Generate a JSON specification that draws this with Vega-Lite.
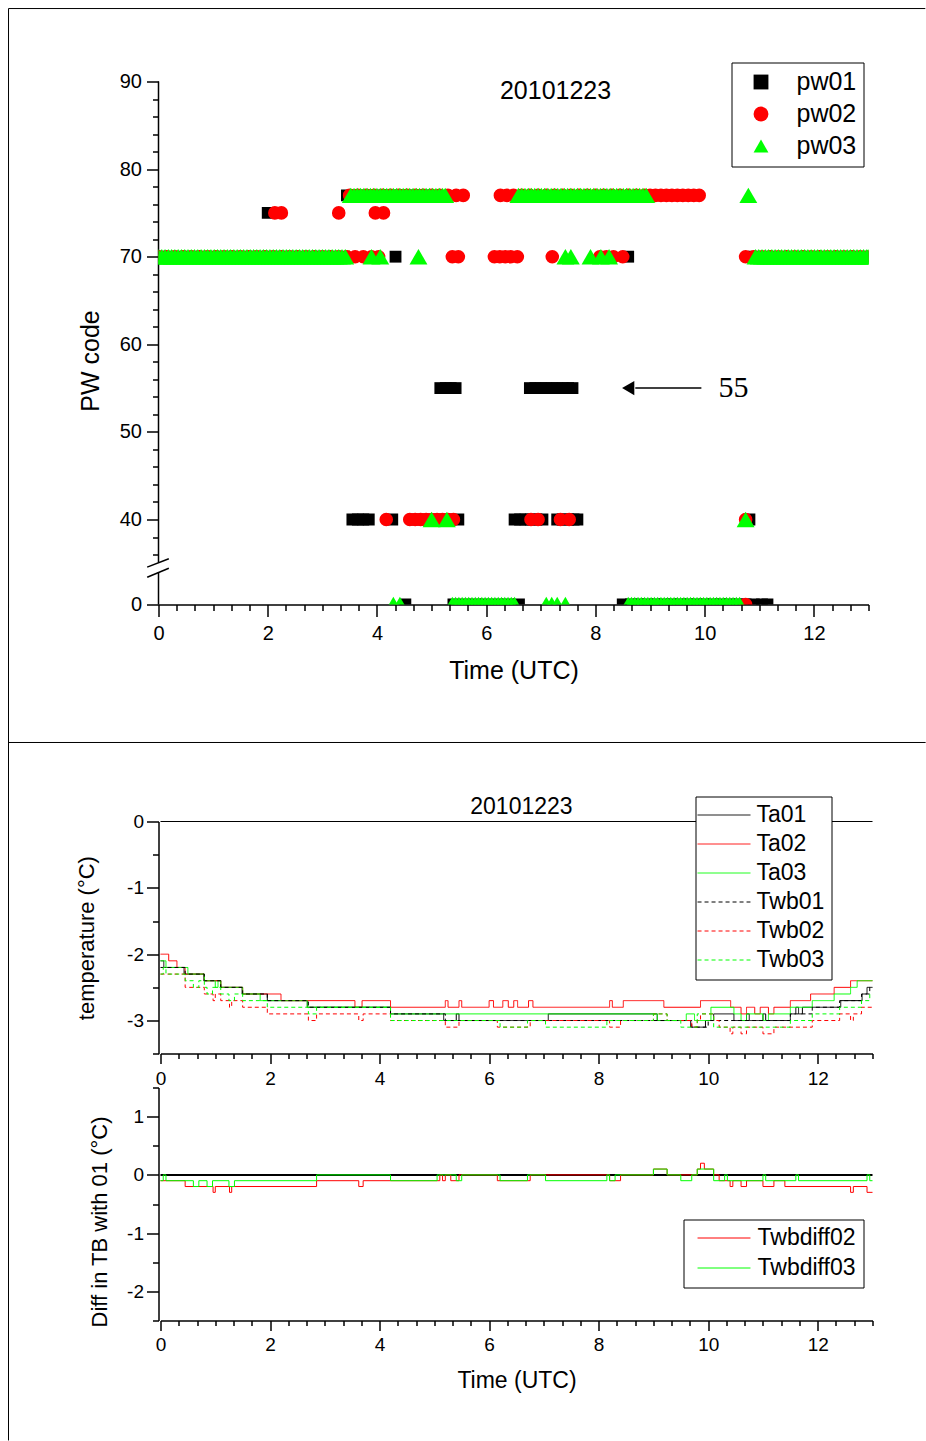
{
"$schema": "https://vega.github.io/schema/vega-lite/v6.json",
"padding": {"left": 7.5, "top": 7.5, "right": 0, "bottom": 0},
"background": "white",
"config": {
  "font": "Liberation Sans",
  "view": {"stroke": null},
  "axis": {"domainColor": "black", "tickColor": "black", "labelColor": "black", "titleColor": "black", "titleFontWeight": "normal", "grid": false, "domainWidth": 1.5, "tickWidth": 1.5, "labelFont": "Liberation Sans", "titleFont": "Liberation Sans"},
  "legend": {"labelFont": "Liberation Sans", "labelColor": "black"}
},
"vconcat": [
{
  "width": 710, "height": 523,
  "encoding": {
    "x": {"field": "t", "type": "quantitative", "scale": {"domain": [0, 13], "nice": false, "zero": false},
      "axis": {"values": [0,0.3333,0.6667,1,1.3333,1.6667,2,2.3333,2.6667,3,3.3333,3.6667,4,4.3333,4.6667,5,5.3333,5.6667,6,6.3333,6.6667,7,7.3333,7.6667,8,8.3333,8.6667,9,9.3333,9.6667,10,10.3333,10.6667,11,11.3333,11.6667,12,12.3333,12.6667,13],
        "labelExpr": "datum.value % 2 == 0 ? '' + datum.value : ''",
        "tickSize": {"condition": {"test": "datum.value % 2 == 0", "value": 12}, "value": 6},
        "labelFontSize": 20, "labelPadding": 7, "labelFlush": false, "labelOverlap": false,
        "title": "Time (UTC)", "titleFontSize": 25, "titlePadding": 15}},
    "y": {"field": "v", "type": "quantitative", "scale": {"domain": [0, 33, 90], "range": [523, 499.3, 0], "nice": false, "zero": false},
      "axis": {"values": [0,36,38,40,42,44,46,48,50,52,54,56,58,60,62,64,66,68,70,72,74,76,78,80,82,84,86,88,90],
        "labelExpr": "datum.value % 10 == 0 ? '' + datum.value : ''",
        "tickSize": {"condition": {"test": "datum.value % 10 == 0", "value": 12}, "value": 6},
        "domain": false, "labelFontSize": 20, "labelPadding": 5, "labelOverlap": false, "labelFlush": false,
        "title": "PW code", "titleFontSize": 25, "titlePadding": 16, "titleY": 279}},
    "color": {"field": "s", "type": "nominal", "scale": {"domain": ["pw01","pw02","pw03"], "range": ["#000000","#ff0000","#00ff00"]},
      "legend": {"orient": "none", "legendX": 573, "legendY": -19, "title": null, "strokeColor": "black", "fillColor": "white", "padding": 7, "labelFontSize": 25, "rowPadding": 6, "labelOffset": 23, "symbolOffset": 10, "symbolSize": 220}},
    "shape": {"field": "s", "type": "nominal", "scale": {"domain": ["pw01","pw02","pw03"], "range": ["square","circle","triangle-up"]}}
  },
  "layer": [
    {"data": {"values": [{"t": -2.746, "v": 98.33, "t2": 14.04, "v2": 98.33}, {"t": -2.746, "v": 98.33, "t2": -2.746, "v2": -5}]},
     "mark": {"type": "rule", "color": "black", "strokeWidth": 1},
     "encoding": {"x2": {"field": "t2"}, "y2": {"field": "v2"}, "color": {"value": "black"}, "shape": null}},
    {"data": {"values": [{"t": 0, "v": 90, "t2": 0, "v2": 35.1}, {"t": 0, "v": 34.0, "t2": 0, "v2": 0}, {"t": -0.207, "v": 34.56, "t2": 0.189, "v2": 35.51}, {"t": -0.207, "v": 33.41, "t2": 0.189, "v2": 34.44}]},
     "mark": {"type": "rule", "color": "black", "strokeWidth": 1.5},
     "encoding": {"x2": {"field": "t2"}, "y2": {"field": "v2"}, "color": {"value": "black"}, "shape": null}},
    {"data": {"values": [
      {"s":"pw01","t":0,"v":70},{"s":"pw01","t":0.2,"v":70},{"s":"pw01","t":0.4,"v":70},{"s":"pw01","t":0.6,"v":70},{"s":"pw01","t":0.8,"v":70},{"s":"pw01","t":1,"v":70},{"s":"pw01","t":1.2,"v":70},{"s":"pw01","t":1.4,"v":70},{"s":"pw01","t":1.6,"v":70},{"s":"pw01","t":1.8,"v":70},{"s":"pw01","t":2,"v":70},{"s":"pw01","t":2.2,"v":70},{"s":"pw01","t":2.4,"v":70},{"s":"pw01","t":2.6,"v":70},{"s":"pw01","t":2.8,"v":70},{"s":"pw01","t":3,"v":70},{"s":"pw01","t":3.2,"v":70},{"s":"pw01","t":3.4,"v":70},{"s":"pw01","t":4.34,"v":70},{"s":"pw01","t":8.6,"v":70},{"s":"pw01","t":10.9,"v":70},{"s":"pw01","t":11.2,"v":70},{"s":"pw01","t":11.5,"v":70},{"s":"pw01","t":11.8,"v":70},{"s":"pw01","t":12.1,"v":70},{"s":"pw01","t":12.4,"v":70},{"s":"pw01","t":12.7,"v":70},{"s":"pw01","t":13,"v":70},
      {"s":"pw01","t":2.0,"v":75},
      {"s":"pw01","t":3.45,"v":77},{"s":"pw01","t":3.6,"v":77},{"s":"pw01","t":3.75,"v":77},{"s":"pw01","t":3.9,"v":77},{"s":"pw01","t":4.05,"v":77},{"s":"pw01","t":4.2,"v":77},{"s":"pw01","t":4.35,"v":77},{"s":"pw01","t":4.5,"v":77},{"s":"pw01","t":4.65,"v":77},{"s":"pw01","t":4.8,"v":77},{"s":"pw01","t":4.9,"v":77},
      {"s":"pw01","t":5.16,"v":55},{"s":"pw01","t":5.26,"v":55},{"s":"pw01","t":5.35,"v":55},{"s":"pw01","t":5.44,"v":55},{"s":"pw01","t":6.8,"v":55},{"s":"pw01","t":6.9,"v":55},{"s":"pw01","t":7,"v":55},{"s":"pw01","t":7.1,"v":55},{"s":"pw01","t":7.2,"v":55},{"s":"pw01","t":7.3,"v":55},{"s":"pw01","t":7.4,"v":55},{"s":"pw01","t":7.5,"v":55},{"s":"pw01","t":7.58,"v":55},
      {"s":"pw01","t":3.55,"v":40},{"s":"pw01","t":3.65,"v":40},{"s":"pw01","t":3.75,"v":40},{"s":"pw01","t":3.85,"v":40},{"s":"pw01","t":4.28,"v":40},{"s":"pw01","t":4.7,"v":40},{"s":"pw01","t":4.9,"v":40},{"s":"pw01","t":5.1,"v":40},{"s":"pw01","t":5.3,"v":40},{"s":"pw01","t":5.49,"v":40},{"s":"pw01","t":6.52,"v":40},{"s":"pw01","t":6.62,"v":40},{"s":"pw01","t":6.72,"v":40},{"s":"pw01","t":6.82,"v":40},{"s":"pw01","t":6.92,"v":40},{"s":"pw01","t":7.03,"v":40},{"s":"pw01","t":7.3,"v":40},{"s":"pw01","t":7.4,"v":40},{"s":"pw01","t":7.5,"v":40},{"s":"pw01","t":7.6,"v":40},{"s":"pw01","t":7.67,"v":40},{"s":"pw01","t":10.82,"v":40},
      {"s":"pw01","t":4.52,"v":0},{"s":"pw01","t":5.4,"v":0},{"s":"pw01","t":5.6,"v":0},{"s":"pw01","t":5.8,"v":0},{"s":"pw01","t":6,"v":0},{"s":"pw01","t":6.2,"v":0},{"s":"pw01","t":6.4,"v":0},{"s":"pw01","t":6.6,"v":0},{"s":"pw01","t":8.5,"v":0},{"s":"pw01","t":8.65,"v":0},{"s":"pw01","t":8.8,"v":0},{"s":"pw01","t":8.95,"v":0},{"s":"pw01","t":9.1,"v":0},{"s":"pw01","t":9.25,"v":0},{"s":"pw01","t":9.4,"v":0},{"s":"pw01","t":9.55,"v":0},{"s":"pw01","t":9.7,"v":0},{"s":"pw01","t":9.85,"v":0},{"s":"pw01","t":10,"v":0},{"s":"pw01","t":10.15,"v":0},{"s":"pw01","t":10.3,"v":0},{"s":"pw01","t":10.45,"v":0},{"s":"pw01","t":10.6,"v":0},{"s":"pw01","t":10.75,"v":0},{"s":"pw01","t":10.9,"v":0},{"s":"pw01","t":11.05,"v":0},{"s":"pw01","t":11.15,"v":0}
     ]},
     "mark": {"type": "point", "filled": true, "opacity": 1, "strokeWidth": 0, "clip": true, "size": 140}},
    {"data": {"values": [
      {"s":"pw02","t":0,"v":70},{"s":"pw02","t":0.15,"v":70},{"s":"pw02","t":0.3,"v":70},{"s":"pw02","t":0.45,"v":70},{"s":"pw02","t":0.6,"v":70},{"s":"pw02","t":0.75,"v":70},{"s":"pw02","t":0.9,"v":70},{"s":"pw02","t":1.05,"v":70},{"s":"pw02","t":1.2,"v":70},{"s":"pw02","t":1.35,"v":70},{"s":"pw02","t":1.5,"v":70},{"s":"pw02","t":1.65,"v":70},{"s":"pw02","t":1.8,"v":70},{"s":"pw02","t":1.95,"v":70},{"s":"pw02","t":2.1,"v":70},{"s":"pw02","t":2.25,"v":70},{"s":"pw02","t":2.4,"v":70},{"s":"pw02","t":2.55,"v":70},{"s":"pw02","t":2.7,"v":70},{"s":"pw02","t":2.85,"v":70},{"s":"pw02","t":3,"v":70},{"s":"pw02","t":3.15,"v":70},{"s":"pw02","t":3.3,"v":70},{"s":"pw02","t":3.45,"v":70},{"s":"pw02","t":3.6,"v":70},{"s":"pw02","t":3.75,"v":70},{"s":"pw02","t":3.9,"v":70},{"s":"pw02","t":4.03,"v":70},{"s":"pw02","t":5.38,"v":70},{"s":"pw02","t":5.49,"v":70},{"s":"pw02","t":6.15,"v":70},{"s":"pw02","t":6.25,"v":70},{"s":"pw02","t":6.35,"v":70},{"s":"pw02","t":6.45,"v":70},{"s":"pw02","t":6.57,"v":70},{"s":"pw02","t":7.21,"v":70},{"s":"pw02","t":8.08,"v":70},{"s":"pw02","t":8.2,"v":70},{"s":"pw02","t":8.33,"v":70},{"s":"pw02","t":8.5,"v":70},{"s":"pw02","t":10.75,"v":70},{"s":"pw02","t":10.9,"v":70},{"s":"pw02","t":11.05,"v":70},{"s":"pw02","t":11.2,"v":70},{"s":"pw02","t":11.35,"v":70},{"s":"pw02","t":11.5,"v":70},{"s":"pw02","t":11.65,"v":70},{"s":"pw02","t":11.8,"v":70},{"s":"pw02","t":11.95,"v":70},{"s":"pw02","t":12.1,"v":70},{"s":"pw02","t":12.25,"v":70},{"s":"pw02","t":12.4,"v":70},{"s":"pw02","t":12.55,"v":70},{"s":"pw02","t":12.7,"v":70},{"s":"pw02","t":12.85,"v":70},{"s":"pw02","t":13,"v":70},
      {"s":"pw02","t":2.13,"v":75},{"s":"pw02","t":2.25,"v":75},{"s":"pw02","t":3.3,"v":75},{"s":"pw02","t":3.97,"v":75},{"s":"pw02","t":4.12,"v":75},
      {"s":"pw02","t":3.5,"v":77},{"s":"pw02","t":3.65,"v":77},{"s":"pw02","t":3.8,"v":77},{"s":"pw02","t":3.95,"v":77},{"s":"pw02","t":4.1,"v":77},{"s":"pw02","t":4.25,"v":77},{"s":"pw02","t":4.4,"v":77},{"s":"pw02","t":4.55,"v":77},{"s":"pw02","t":4.7,"v":77},{"s":"pw02","t":4.85,"v":77},{"s":"pw02","t":5,"v":77},{"s":"pw02","t":5.15,"v":77},{"s":"pw02","t":5.3,"v":77},{"s":"pw02","t":5.45,"v":77},{"s":"pw02","t":5.58,"v":77},{"s":"pw02","t":6.26,"v":77},{"s":"pw02","t":6.38,"v":77},{"s":"pw02","t":6.5,"v":77},{"s":"pw02","t":6.65,"v":77},{"s":"pw02","t":6.8,"v":77},{"s":"pw02","t":6.95,"v":77},{"s":"pw02","t":7.1,"v":77},{"s":"pw02","t":7.25,"v":77},{"s":"pw02","t":7.4,"v":77},{"s":"pw02","t":7.55,"v":77},{"s":"pw02","t":7.7,"v":77},{"s":"pw02","t":7.85,"v":77},{"s":"pw02","t":8,"v":77},{"s":"pw02","t":8.15,"v":77},{"s":"pw02","t":8.3,"v":77},{"s":"pw02","t":8.45,"v":77},{"s":"pw02","t":8.6,"v":77},{"s":"pw02","t":8.75,"v":77},{"s":"pw02","t":8.9,"v":77},{"s":"pw02","t":9.0,"v":77},{"s":"pw02","t":9.1,"v":77},{"s":"pw02","t":9.2,"v":77},{"s":"pw02","t":9.3,"v":77},{"s":"pw02","t":9.4,"v":77},{"s":"pw02","t":9.5,"v":77},{"s":"pw02","t":9.6,"v":77},{"s":"pw02","t":9.7,"v":77},{"s":"pw02","t":9.8,"v":77},{"s":"pw02","t":9.9,"v":77},
      {"s":"pw02","t":4.17,"v":40},{"s":"pw02","t":4.6,"v":40},{"s":"pw02","t":4.7,"v":40},{"s":"pw02","t":4.8,"v":40},{"s":"pw02","t":4.9,"v":40},{"s":"pw02","t":5,"v":40},{"s":"pw02","t":5.1,"v":40},{"s":"pw02","t":5.2,"v":40},{"s":"pw02","t":5.3,"v":40},{"s":"pw02","t":5.4,"v":40},{"s":"pw02","t":6.82,"v":40},{"s":"pw02","t":6.95,"v":40},{"s":"pw02","t":7.36,"v":40},{"s":"pw02","t":7.52,"v":40},{"s":"pw02","t":10.75,"v":40},
      {"s":"pw02","t":10.75,"v":0}
     ]},
     "mark": {"type": "point", "filled": true, "opacity": 1, "strokeWidth": 0, "clip": true, "size": 185}},
    {"data": {"values": [
      {"s":"pw03","t":0,"v":70},{"s":"pw03","t":0.06,"v":70},{"s":"pw03","t":0.12,"v":70},{"s":"pw03","t":0.18,"v":70},{"s":"pw03","t":0.24,"v":70},{"s":"pw03","t":0.3,"v":70},{"s":"pw03","t":0.36,"v":70},{"s":"pw03","t":0.42,"v":70},{"s":"pw03","t":0.48,"v":70},{"s":"pw03","t":0.54,"v":70},{"s":"pw03","t":0.6,"v":70},{"s":"pw03","t":0.66,"v":70},{"s":"pw03","t":0.72,"v":70},{"s":"pw03","t":0.78,"v":70},{"s":"pw03","t":0.84,"v":70},{"s":"pw03","t":0.9,"v":70},{"s":"pw03","t":0.96,"v":70},{"s":"pw03","t":1.02,"v":70},{"s":"pw03","t":1.08,"v":70},{"s":"pw03","t":1.14,"v":70},{"s":"pw03","t":1.2,"v":70},{"s":"pw03","t":1.26,"v":70},{"s":"pw03","t":1.32,"v":70},{"s":"pw03","t":1.38,"v":70},{"s":"pw03","t":1.44,"v":70},{"s":"pw03","t":1.5,"v":70},{"s":"pw03","t":1.56,"v":70},{"s":"pw03","t":1.62,"v":70},{"s":"pw03","t":1.68,"v":70},{"s":"pw03","t":1.74,"v":70},{"s":"pw03","t":1.8,"v":70},{"s":"pw03","t":1.86,"v":70},{"s":"pw03","t":1.92,"v":70},{"s":"pw03","t":1.98,"v":70},{"s":"pw03","t":2.04,"v":70},{"s":"pw03","t":2.1,"v":70},{"s":"pw03","t":2.16,"v":70},{"s":"pw03","t":2.22,"v":70},{"s":"pw03","t":2.28,"v":70},{"s":"pw03","t":2.34,"v":70},{"s":"pw03","t":2.4,"v":70},{"s":"pw03","t":2.46,"v":70},{"s":"pw03","t":2.52,"v":70},{"s":"pw03","t":2.58,"v":70},{"s":"pw03","t":2.64,"v":70},{"s":"pw03","t":2.7,"v":70},{"s":"pw03","t":2.76,"v":70},{"s":"pw03","t":2.82,"v":70},{"s":"pw03","t":2.88,"v":70},{"s":"pw03","t":2.94,"v":70},{"s":"pw03","t":3,"v":70},{"s":"pw03","t":3.06,"v":70},{"s":"pw03","t":3.12,"v":70},{"s":"pw03","t":3.18,"v":70},{"s":"pw03","t":3.24,"v":70},{"s":"pw03","t":3.3,"v":70},{"s":"pw03","t":3.36,"v":70},{"s":"pw03","t":3.42,"v":70},
      {"s":"pw03","t":3.9,"v":70},{"s":"pw03","t":4.06,"v":70},{"s":"pw03","t":4.76,"v":70},{"s":"pw03","t":7.45,"v":70},{"s":"pw03","t":7.55,"v":70},{"s":"pw03","t":7.91,"v":70},{"s":"pw03","t":8.1,"v":70},{"s":"pw03","t":8.25,"v":70},
      {"s":"pw03","t":10.93,"v":70},{"s":"pw03","t":10.99,"v":70},{"s":"pw03","t":11.05,"v":70},{"s":"pw03","t":11.11,"v":70},{"s":"pw03","t":11.17,"v":70},{"s":"pw03","t":11.23,"v":70},{"s":"pw03","t":11.29,"v":70},{"s":"pw03","t":11.35,"v":70},{"s":"pw03","t":11.41,"v":70},{"s":"pw03","t":11.47,"v":70},{"s":"pw03","t":11.53,"v":70},{"s":"pw03","t":11.59,"v":70},{"s":"pw03","t":11.65,"v":70},{"s":"pw03","t":11.71,"v":70},{"s":"pw03","t":11.77,"v":70},{"s":"pw03","t":11.83,"v":70},{"s":"pw03","t":11.89,"v":70},{"s":"pw03","t":11.95,"v":70},{"s":"pw03","t":12.01,"v":70},{"s":"pw03","t":12.07,"v":70},{"s":"pw03","t":12.13,"v":70},{"s":"pw03","t":12.19,"v":70},{"s":"pw03","t":12.25,"v":70},{"s":"pw03","t":12.31,"v":70},{"s":"pw03","t":12.37,"v":70},{"s":"pw03","t":12.43,"v":70},{"s":"pw03","t":12.49,"v":70},{"s":"pw03","t":12.55,"v":70},{"s":"pw03","t":12.61,"v":70},{"s":"pw03","t":12.67,"v":70},{"s":"pw03","t":12.73,"v":70},{"s":"pw03","t":12.79,"v":70},{"s":"pw03","t":12.85,"v":70},{"s":"pw03","t":12.91,"v":70},{"s":"pw03","t":12.97,"v":70},{"s":"pw03","t":13,"v":70},
      {"s":"pw03","t":3.52,"v":77},{"s":"pw03","t":3.58,"v":77},{"s":"pw03","t":3.64,"v":77},{"s":"pw03","t":3.7,"v":77},{"s":"pw03","t":3.76,"v":77},{"s":"pw03","t":3.82,"v":77},{"s":"pw03","t":3.88,"v":77},{"s":"pw03","t":3.94,"v":77},{"s":"pw03","t":4,"v":77},{"s":"pw03","t":4.06,"v":77},{"s":"pw03","t":4.12,"v":77},{"s":"pw03","t":4.18,"v":77},{"s":"pw03","t":4.24,"v":77},{"s":"pw03","t":4.3,"v":77},{"s":"pw03","t":4.36,"v":77},{"s":"pw03","t":4.42,"v":77},{"s":"pw03","t":4.48,"v":77},{"s":"pw03","t":4.54,"v":77},{"s":"pw03","t":4.6,"v":77},{"s":"pw03","t":4.66,"v":77},{"s":"pw03","t":4.72,"v":77},{"s":"pw03","t":4.78,"v":77},{"s":"pw03","t":4.84,"v":77},{"s":"pw03","t":4.9,"v":77},{"s":"pw03","t":4.96,"v":77},{"s":"pw03","t":5.02,"v":77},{"s":"pw03","t":5.08,"v":77},{"s":"pw03","t":5.14,"v":77},{"s":"pw03","t":5.2,"v":77},{"s":"pw03","t":5.25,"v":77},
      {"s":"pw03","t":6.59,"v":77},{"s":"pw03","t":6.65,"v":77},{"s":"pw03","t":6.71,"v":77},{"s":"pw03","t":6.77,"v":77},{"s":"pw03","t":6.83,"v":77},{"s":"pw03","t":6.89,"v":77},{"s":"pw03","t":6.95,"v":77},{"s":"pw03","t":7.01,"v":77},{"s":"pw03","t":7.07,"v":77},{"s":"pw03","t":7.13,"v":77},{"s":"pw03","t":7.19,"v":77},{"s":"pw03","t":7.25,"v":77},{"s":"pw03","t":7.31,"v":77},{"s":"pw03","t":7.37,"v":77},{"s":"pw03","t":7.43,"v":77},{"s":"pw03","t":7.49,"v":77},{"s":"pw03","t":7.55,"v":77},{"s":"pw03","t":7.61,"v":77},{"s":"pw03","t":7.67,"v":77},{"s":"pw03","t":7.73,"v":77},{"s":"pw03","t":7.79,"v":77},{"s":"pw03","t":7.85,"v":77},{"s":"pw03","t":7.91,"v":77},{"s":"pw03","t":7.97,"v":77},{"s":"pw03","t":8.03,"v":77},{"s":"pw03","t":8.09,"v":77},{"s":"pw03","t":8.15,"v":77},{"s":"pw03","t":8.21,"v":77},{"s":"pw03","t":8.27,"v":77},{"s":"pw03","t":8.33,"v":77},{"s":"pw03","t":8.39,"v":77},{"s":"pw03","t":8.45,"v":77},{"s":"pw03","t":8.51,"v":77},{"s":"pw03","t":8.57,"v":77},{"s":"pw03","t":8.63,"v":77},{"s":"pw03","t":8.69,"v":77},{"s":"pw03","t":8.75,"v":77},{"s":"pw03","t":8.81,"v":77},{"s":"pw03","t":8.87,"v":77},{"s":"pw03","t":8.93,"v":77},{"s":"pw03","t":10.8,"v":77},
      {"s":"pw03","t":5,"v":40},{"s":"pw03","t":5.28,"v":40},{"s":"pw03","t":10.75,"v":40},
      {"s":"pw03","t":4.3,"v":0},{"s":"pw03","t":4.42,"v":0},
      {"s":"pw03","t":5.38,"v":0},{"s":"pw03","t":5.44,"v":0},{"s":"pw03","t":5.5,"v":0},{"s":"pw03","t":5.56,"v":0},{"s":"pw03","t":5.62,"v":0},{"s":"pw03","t":5.68,"v":0},{"s":"pw03","t":5.74,"v":0},{"s":"pw03","t":5.8,"v":0},{"s":"pw03","t":5.86,"v":0},{"s":"pw03","t":5.92,"v":0},{"s":"pw03","t":5.98,"v":0},{"s":"pw03","t":6.04,"v":0},{"s":"pw03","t":6.1,"v":0},{"s":"pw03","t":6.16,"v":0},{"s":"pw03","t":6.22,"v":0},{"s":"pw03","t":6.28,"v":0},{"s":"pw03","t":6.34,"v":0},{"s":"pw03","t":6.4,"v":0},{"s":"pw03","t":6.46,"v":0},{"s":"pw03","t":6.52,"v":0},
      {"s":"pw03","t":7.1,"v":0},{"s":"pw03","t":7.2,"v":0},{"s":"pw03","t":7.3,"v":0},{"s":"pw03","t":7.45,"v":0},
      {"s":"pw03","t":8.6,"v":0},{"s":"pw03","t":8.66,"v":0},{"s":"pw03","t":8.72,"v":0},{"s":"pw03","t":8.78,"v":0},{"s":"pw03","t":8.84,"v":0},{"s":"pw03","t":8.9,"v":0},{"s":"pw03","t":8.96,"v":0},{"s":"pw03","t":9.02,"v":0},{"s":"pw03","t":9.08,"v":0},{"s":"pw03","t":9.14,"v":0},{"s":"pw03","t":9.2,"v":0},{"s":"pw03","t":9.26,"v":0},{"s":"pw03","t":9.32,"v":0},{"s":"pw03","t":9.38,"v":0},{"s":"pw03","t":9.44,"v":0},{"s":"pw03","t":9.5,"v":0},{"s":"pw03","t":9.56,"v":0},{"s":"pw03","t":9.62,"v":0},{"s":"pw03","t":9.68,"v":0},{"s":"pw03","t":9.74,"v":0},{"s":"pw03","t":9.8,"v":0},{"s":"pw03","t":9.86,"v":0},{"s":"pw03","t":9.92,"v":0},{"s":"pw03","t":9.98,"v":0},{"s":"pw03","t":10.04,"v":0},{"s":"pw03","t":10.1,"v":0},{"s":"pw03","t":10.16,"v":0},{"s":"pw03","t":10.22,"v":0},{"s":"pw03","t":10.28,"v":0},{"s":"pw03","t":10.34,"v":0},{"s":"pw03","t":10.4,"v":0},{"s":"pw03","t":10.46,"v":0},{"s":"pw03","t":10.52,"v":0},{"s":"pw03","t":10.58,"v":0},{"s":"pw03","t":10.64,"v":0}
     ]},
     "mark": {"type": "point", "filled": true, "opacity": 1, "strokeWidth": 0, "clip": true, "size": 320}},
    {"data": {"values": [{"t": 8.73, "v": 55, "t2": 9.94, "v2": 55}]},
     "mark": {"type": "rule", "color": "black", "strokeWidth": 1.5},
     "encoding": {"x2": {"field": "t2"}, "y2": {"field": "v2"}, "color": {"value": "black"}, "shape": null}},
    {"data": {"values": [{"t": 8.6, "v": 55}]},
     "mark": {"type": "point", "filled": true, "opacity": 1, "size": 200},
     "encoding": {"color": {"value": "black"}, "shape": {"value": "triangle-left"}}},
    {"data": {"values": [{"t": 10.53, "v": 55, "label": "55"}]},
     "mark": {"type": "text", "font": "Liberation Serif", "fontSize": 30, "baseline": "middle", "align": "center"},
     "encoding": {"text": {"field": "label"}, "color": {"value": "black"}, "shape": null}},
    {"data": {"values": [{"t": 7.27, "v": 88.86, "label": "20101223"}]},
     "mark": {"type": "text", "fontSize": 25, "baseline": "middle", "align": "center"},
     "encoding": {"text": {"field": "label"}, "color": {"value": "black"}, "shape": null}}
  ]
},
{
  "width": 714, "height": 499,
  "layer": [
    {
      "encoding": {
        "x": {"field": "t", "type": "quantitative", "scale": {"domain": [0, 13], "range": [2, 714], "nice": false, "zero": false},
          "axis": {"orient": "bottom", "offset": -267, "values": [0,0.3333,0.6667,1,1.3333,1.6667,2,2.3333,2.6667,3,3.3333,3.6667,4,4.3333,4.6667,5,5.3333,5.6667,6,6.3333,6.6667,7,7.3333,7.6667,8,8.3333,8.6667,9,9.3333,9.6667,10,10.3333,10.6667,11,11.3333,11.6667,12,12.3333,12.6667,13],
            "labelExpr": "datum.value % 2 == 0 ? '' + datum.value : ''",
            "tickSize": {"condition": {"test": "datum.value % 2 == 0", "value": 10}, "value": 5},
            "labelFontSize": 19, "labelPadding": 6, "labelFlush": false, "labelOverlap": false, "title": null}},
        "y": {"field": "v", "type": "quantitative", "scale": {"domain": [-3.5, 0], "range": [232.2, 0], "nice": false, "zero": false},
          "axis": {"orient": "left", "values": [-3.5,-3,-2.5,-2,-1.5,-1,-0.5,0],
            "labelExpr": "datum.value % 1 == 0 ? '' + datum.value : ''",
            "tickSize": {"condition": {"test": "datum.value % 1 == 0", "value": 12}, "value": 6},
            "labelFontSize": 19, "labelPadding": 3, "labelFlush": false, "labelOverlap": false,
            "title": "temperature (°C)", "titleFontSize": 22, "titlePadding": 28}}
      },
      "layer": [
        {"data": {"values": [{"t": -2.775, "v": 3.27, "t2": -2.775, "v2": -9.33}, {"t": -2.775, "v": 1.191, "t2": 13.97, "v2": 1.191}, {"t": 0, "v": 0, "t2": 13, "v2": 0}]},
         "mark": {"type": "rule", "color": "black", "strokeWidth": 1},
         "encoding": {"x2": {"field": "t2"}, "y2": {"field": "v2"}}},
        {"data": {"values": [
          {"s":"Ta01","t":0,"v":-2.1},{"s":"Ta01","t":0.06,"v":-2.2},{"s":"Ta01","t":0.43,"v":-2.3},{"s":"Ta01","t":0.79,"v":-2.4},{"s":"Ta01","t":1.1,"v":-2.5},{"s":"Ta01","t":1.49,"v":-2.6},{"s":"Ta01","t":1.95,"v":-2.7},{"s":"Ta01","t":2.68,"v":-2.8},{"s":"Ta01","t":4.2,"v":-2.9},{"s":"Ta01","t":5.17,"v":-3},{"s":"Ta01","t":5.4,"v":-2.9},{"s":"Ta01","t":5.45,"v":-3},{"s":"Ta01","t":7.08,"v":-2.9},{"s":"Ta01","t":9.07,"v":-3},{"s":"Ta01","t":9.68,"v":-3.1},{"s":"Ta01","t":9.95,"v":-3},{"s":"Ta01","t":10.1,"v":-2.9},{"s":"Ta01","t":10.47,"v":-3},{"s":"Ta01","t":10.7,"v":-2.9},{"s":"Ta01","t":10.75,"v":-3},{"s":"Ta01","t":11,"v":-2.9},{"s":"Ta01","t":11.05,"v":-3},{"s":"Ta01","t":11.5,"v":-2.9},{"s":"Ta01","t":11.6,"v":-2.8},{"s":"Ta01","t":11.65,"v":-2.9},{"s":"Ta01","t":11.72,"v":-2.8},{"s":"Ta01","t":12.42,"v":-2.7},{"s":"Ta01","t":12.81,"v":-2.6},{"s":"Ta01","t":12.9,"v":-2.5},{"s":"Ta01","t":13,"v":-2.5},
          {"s":"Ta02","t":0,"v":-2},{"s":"Ta02","t":0.15,"v":-2.1},{"s":"Ta02","t":0.3,"v":-2.2},{"s":"Ta02","t":0.45,"v":-2.3},{"s":"Ta02","t":0.8,"v":-2.4},{"s":"Ta02","t":1.1,"v":-2.5},{"s":"Ta02","t":1.5,"v":-2.6},{"s":"Ta02","t":2.2,"v":-2.7},{"s":"Ta02","t":3.55,"v":-2.8},{"s":"Ta02","t":3.68,"v":-2.7},{"s":"Ta02","t":4.2,"v":-2.8},{"s":"Ta02","t":5.2,"v":-2.7},{"s":"Ta02","t":5.25,"v":-2.8},{"s":"Ta02","t":5.45,"v":-2.7},{"s":"Ta02","t":5.5,"v":-2.8},{"s":"Ta02","t":6,"v":-2.7},{"s":"Ta02","t":6.08,"v":-2.8},{"s":"Ta02","t":6.25,"v":-2.7},{"s":"Ta02","t":6.35,"v":-2.8},{"s":"Ta02","t":6.45,"v":-2.7},{"s":"Ta02","t":6.52,"v":-2.8},{"s":"Ta02","t":6.72,"v":-2.7},{"s":"Ta02","t":6.8,"v":-2.8},{"s":"Ta02","t":8.2,"v":-2.7},{"s":"Ta02","t":8.25,"v":-2.8},{"s":"Ta02","t":8.45,"v":-2.7},{"s":"Ta02","t":9.19,"v":-2.8},{"s":"Ta02","t":9.86,"v":-2.7},{"s":"Ta02","t":10.41,"v":-2.8},{"s":"Ta02","t":10.6,"v":-2.9},{"s":"Ta02","t":10.7,"v":-2.8},{"s":"Ta02","t":10.85,"v":-2.9},{"s":"Ta02","t":10.95,"v":-2.8},{"s":"Ta02","t":11.1,"v":-2.9},{"s":"Ta02","t":11.2,"v":-2.8},{"s":"Ta02","t":11.5,"v":-2.7},{"s":"Ta02","t":11.87,"v":-2.6},{"s":"Ta02","t":12.3,"v":-2.5},{"s":"Ta02","t":12.6,"v":-2.4},{"s":"Ta02","t":13,"v":-2.4},
          {"s":"Ta03","t":0,"v":-2.1},{"s":"Ta03","t":0.1,"v":-2.2},{"s":"Ta03","t":0.5,"v":-2.3},{"s":"Ta03","t":0.8,"v":-2.4},{"s":"Ta03","t":1,"v":-2.5},{"s":"Ta03","t":1.05,"v":-2.4},{"s":"Ta03","t":1.1,"v":-2.5},{"s":"Ta03","t":1.5,"v":-2.6},{"s":"Ta03","t":1.82,"v":-2.7},{"s":"Ta03","t":2.68,"v":-2.8},{"s":"Ta03","t":4.2,"v":-2.9},{"s":"Ta03","t":9.07,"v":-3},{"s":"Ta03","t":9.6,"v":-2.9},{"s":"Ta03","t":9.75,"v":-3},{"s":"Ta03","t":10.05,"v":-2.8},{"s":"Ta03","t":10.47,"v":-2.9},{"s":"Ta03","t":10.6,"v":-3},{"s":"Ta03","t":10.7,"v":-2.9},{"s":"Ta03","t":11,"v":-3},{"s":"Ta03","t":11.1,"v":-2.9},{"s":"Ta03","t":11.5,"v":-2.8},{"s":"Ta03","t":11.9,"v":-2.7},{"s":"Ta03","t":12.3,"v":-2.6},{"s":"Ta03","t":12.6,"v":-2.5},{"s":"Ta03","t":12.72,"v":-2.4},{"s":"Ta03","t":13,"v":-2.4},
          {"s":"Twb01","t":0,"v":-2.2},{"s":"Twb01","t":0.45,"v":-2.3},{"s":"Twb01","t":0.8,"v":-2.4},{"s":"Twb01","t":1.1,"v":-2.5},{"s":"Twb01","t":1.5,"v":-2.6},{"s":"Twb01","t":1.95,"v":-2.7},{"s":"Twb01","t":2.7,"v":-2.8},{"s":"Twb01","t":4.2,"v":-2.9},{"s":"Twb01","t":5.2,"v":-3},{"s":"Twb01","t":9.7,"v":-3.1},{"s":"Twb01","t":10,"v":-3},{"s":"Twb01","t":11.5,"v":-2.9},{"s":"Twb01","t":11.9,"v":-2.8},{"s":"Twb01","t":12.4,"v":-2.7},{"s":"Twb01","t":12.8,"v":-2.6},{"s":"Twb01","t":12.95,"v":-2.5},{"s":"Twb01","t":13,"v":-2.5},
          {"s":"Twb02","t":0,"v":-2.3},{"s":"Twb02","t":0.45,"v":-2.5},{"s":"Twb02","t":0.8,"v":-2.6},{"s":"Twb02","t":0.96,"v":-2.7},{"s":"Twb02","t":1,"v":-2.6},{"s":"Twb02","t":1.1,"v":-2.7},{"s":"Twb02","t":1.26,"v":-2.8},{"s":"Twb02","t":1.3,"v":-2.7},{"s":"Twb02","t":1.5,"v":-2.8},{"s":"Twb02","t":1.95,"v":-2.9},{"s":"Twb02","t":2.7,"v":-3},{"s":"Twb02","t":2.85,"v":-2.9},{"s":"Twb02","t":3.62,"v":-3},{"s":"Twb02","t":3.7,"v":-2.9},{"s":"Twb02","t":4.2,"v":-3},{"s":"Twb02","t":5.2,"v":-3.1},{"s":"Twb02","t":5.45,"v":-3},{"s":"Twb02","t":6.15,"v":-3.1},{"s":"Twb02","t":6.75,"v":-3},{"s":"Twb02","t":8.2,"v":-3.1},{"s":"Twb02","t":8.4,"v":-3},{"s":"Twb02","t":9,"v":-2.9},{"s":"Twb02","t":9.25,"v":-3},{"s":"Twb02","t":9.7,"v":-3.1},{"s":"Twb02","t":9.8,"v":-3},{"s":"Twb02","t":9.86,"v":-2.9},{"s":"Twb02","t":10.1,"v":-3},{"s":"Twb02","t":10.2,"v":-3.1},{"s":"Twb02","t":10.4,"v":-3.2},{"s":"Twb02","t":10.45,"v":-3.1},{"s":"Twb02","t":10.6,"v":-3.2},{"s":"Twb02","t":10.7,"v":-3.1},{"s":"Twb02","t":11,"v":-3.2},{"s":"Twb02","t":11.2,"v":-3.1},{"s":"Twb02","t":11.9,"v":-3},{"s":"Twb02","t":12.4,"v":-2.9},{"s":"Twb02","t":12.6,"v":-3},{"s":"Twb02","t":12.65,"v":-2.9},{"s":"Twb02","t":12.8,"v":-2.8},{"s":"Twb02","t":13,"v":-2.8},
          {"s":"Twb03","t":0,"v":-2.3},{"s":"Twb03","t":0.05,"v":-2.2},{"s":"Twb03","t":0.1,"v":-2.3},{"s":"Twb03","t":0.45,"v":-2.4},{"s":"Twb03","t":0.6,"v":-2.5},{"s":"Twb03","t":0.7,"v":-2.4},{"s":"Twb03","t":0.8,"v":-2.5},{"s":"Twb03","t":0.85,"v":-2.6},{"s":"Twb03","t":0.95,"v":-2.5},{"s":"Twb03","t":1.1,"v":-2.6},{"s":"Twb03","t":1.25,"v":-2.7},{"s":"Twb03","t":1.35,"v":-2.6},{"s":"Twb03","t":1.5,"v":-2.7},{"s":"Twb03","t":1.95,"v":-2.8},{"s":"Twb03","t":2.7,"v":-2.9},{"s":"Twb03","t":2.85,"v":-2.8},{"s":"Twb03","t":4.2,"v":-3},{"s":"Twb03","t":6.2,"v":-3.1},{"s":"Twb03","t":6.7,"v":-3},{"s":"Twb03","t":7.03,"v":-3.1},{"s":"Twb03","t":8.15,"v":-3},{"s":"Twb03","t":9,"v":-2.9},{"s":"Twb03","t":9.25,"v":-3},{"s":"Twb03","t":9.5,"v":-3.1},{"s":"Twb03","t":9.8,"v":-2.9},{"s":"Twb03","t":10.1,"v":-3.1},{"s":"Twb03","t":11.5,"v":-3},{"s":"Twb03","t":11.9,"v":-2.9},{"s":"Twb03","t":12.4,"v":-2.8},{"s":"Twb03","t":12.8,"v":-2.7},{"s":"Twb03","t":12.95,"v":-2.6},{"s":"Twb03","t":13,"v":-2.6}
         ]},
         "mark": {"type": "line", "interpolate": "step-after", "strokeWidth": 1},
         "encoding": {
           "color": {"field": "s", "type": "nominal", "scale": {"domain": ["Ta01","Ta02","Ta03","Twb01","Twb02","Twb03"], "range": ["#000000","#ff0000","#00ff00","#000000","#ff0000","#00ff00"]},
             "legend": {"orient": "none", "legendX": 537, "legendY": -25, "title": null, "strokeColor": "black", "fillColor": "white", "padding": 7, "labelFontSize": 23, "symbolSize": 112, "symbolStrokeWidth": 1, "rowPadding": 5, "labelOffset": 21, "symbolOffset": 10, "symbolType": "M-5,0H5"}},
           "strokeDash": {"field": "s", "type": "nominal", "scale": {"domain": ["Ta01","Ta02","Ta03","Twb01","Twb02","Twb03"], "range": [[1,0],[1,0],[1,0],[4,3],[4,3],[4,3]]},
             "legend": {"orient": "none", "legendX": 537, "legendY": -25, "title": null, "strokeColor": "black", "fillColor": "white", "padding": 7, "labelFontSize": 23, "symbolSize": 112, "symbolStrokeWidth": 1, "rowPadding": 5, "labelOffset": 21, "symbolOffset": 10, "symbolType": "M-5,0H5"}}
         }},
        {"data": {"values": [{"t": 6.59, "v": 0.226, "label": "20101223"}]},
         "mark": {"type": "text", "fontSize": 23, "color": "black", "baseline": "middle", "align": "center"},
         "encoding": {"text": {"field": "label"}}}
      ]
    },
    {
      "encoding": {
        "x": {"field": "t", "type": "quantitative", "scale": {"domain": [0, 13], "range": [2, 714], "nice": false, "zero": false},
          "axis": {"orient": "bottom", "values": [0,0.3333,0.6667,1,1.3333,1.6667,2,2.3333,2.6667,3,3.3333,3.6667,4,4.3333,4.6667,5,5.3333,5.6667,6,6.3333,6.6667,7,7.3333,7.6667,8,8.3333,8.6667,9,9.3333,9.6667,10,10.3333,10.6667,11,11.3333,11.6667,12,12.3333,12.6667,13],
            "labelExpr": "datum.value % 2 == 0 ? '' + datum.value : ''",
            "tickSize": {"condition": {"test": "datum.value % 2 == 0", "value": 10}, "value": 5},
            "labelFontSize": 19, "labelPadding": 5, "labelFlush": false, "labelOverlap": false,
            "title": "Time (UTC)", "titleFontSize": 23, "titlePadding": 15}},
        "y": {"field": "v", "type": "quantitative", "scale": {"domain": [-2.5, 1.5], "range": [499, 266], "nice": false, "zero": false},
          "axis": {"orient": "left", "values": [-2.5,-2,-1.5,-1,-0.5,0,0.5,1,1.5],
            "labelExpr": "datum.value % 1 == 0 ? '' + datum.value : ''",
            "tickSize": {"condition": {"test": "datum.value % 1 == 0", "value": 12}, "value": 6},
            "labelFontSize": 19, "labelPadding": 3, "labelFlush": false, "labelOverlap": false,
            "title": "Diff in TB with 01 (°C)", "titleFontSize": 22, "titlePadding": 15, "titleY": 400}}
      },
      "layer": [
        {"data": {"values": [{"t": 0, "v": 0, "t2": 13, "v2": 0}]},
         "mark": {"type": "rule", "color": "black", "strokeWidth": 2},
         "encoding": {"x2": {"field": "t2"}, "y2": {"field": "v2"}}},
        {"data": {"values": [
          {"s":"Twbdiff02","t":0,"v":-0.1},{"s":"Twbdiff02","t":0.45,"v":-0.2},{"s":"Twbdiff02","t":0.96,"v":-0.3},{"s":"Twbdiff02","t":1,"v":-0.2},{"s":"Twbdiff02","t":1.26,"v":-0.3},{"s":"Twbdiff02","t":1.3,"v":-0.2},{"s":"Twbdiff02","t":2.85,"v":-0.1},{"s":"Twbdiff02","t":3.62,"v":-0.2},{"s":"Twbdiff02","t":3.7,"v":-0.1},{"s":"Twbdiff02","t":5.1,"v":0},{"s":"Twbdiff02","t":5.15,"v":-0.1},{"s":"Twbdiff02","t":5.2,"v":0},{"s":"Twbdiff02","t":5.3,"v":-0.1},{"s":"Twbdiff02","t":5.45,"v":0},{"s":"Twbdiff02","t":6.15,"v":-0.1},{"s":"Twbdiff02","t":6.75,"v":0},{"s":"Twbdiff02","t":8.2,"v":-0.1},{"s":"Twbdiff02","t":8.4,"v":0},{"s":"Twbdiff02","t":9,"v":0.1},{"s":"Twbdiff02","t":9.25,"v":0},{"s":"Twbdiff02","t":9.8,"v":0.1},{"s":"Twbdiff02","t":9.86,"v":0.2},{"s":"Twbdiff02","t":9.93,"v":0.1},{"s":"Twbdiff02","t":10.1,"v":0},{"s":"Twbdiff02","t":10.2,"v":-0.1},{"s":"Twbdiff02","t":10.4,"v":-0.2},{"s":"Twbdiff02","t":10.45,"v":-0.1},{"s":"Twbdiff02","t":10.6,"v":-0.2},{"s":"Twbdiff02","t":10.7,"v":-0.1},{"s":"Twbdiff02","t":11,"v":-0.2},{"s":"Twbdiff02","t":11.2,"v":-0.1},{"s":"Twbdiff02","t":11.4,"v":-0.2},{"s":"Twbdiff02","t":12.6,"v":-0.3},{"s":"Twbdiff02","t":12.65,"v":-0.2},{"s":"Twbdiff02","t":12.9,"v":-0.3},{"s":"Twbdiff02","t":13,"v":-0.3},
          {"s":"Twbdiff03","t":0,"v":-0.1},{"s":"Twbdiff03","t":0.05,"v":0},{"s":"Twbdiff03","t":0.1,"v":-0.1},{"s":"Twbdiff03","t":0.6,"v":-0.2},{"s":"Twbdiff03","t":0.7,"v":-0.1},{"s":"Twbdiff03","t":0.85,"v":-0.2},{"s":"Twbdiff03","t":0.95,"v":-0.1},{"s":"Twbdiff03","t":1.25,"v":-0.2},{"s":"Twbdiff03","t":1.35,"v":-0.1},{"s":"Twbdiff03","t":2.85,"v":0},{"s":"Twbdiff03","t":4.2,"v":-0.1},{"s":"Twbdiff03","t":5.05,"v":0},{"s":"Twbdiff03","t":5.4,"v":-0.1},{"s":"Twbdiff03","t":5.5,"v":0},{"s":"Twbdiff03","t":6.2,"v":-0.1},{"s":"Twbdiff03","t":6.7,"v":0},{"s":"Twbdiff03","t":7.03,"v":-0.1},{"s":"Twbdiff03","t":8.15,"v":0},{"s":"Twbdiff03","t":8.2,"v":-0.1},{"s":"Twbdiff03","t":8.3,"v":0},{"s":"Twbdiff03","t":9,"v":0.1},{"s":"Twbdiff03","t":9.25,"v":0},{"s":"Twbdiff03","t":9.5,"v":-0.1},{"s":"Twbdiff03","t":9.7,"v":0},{"s":"Twbdiff03","t":9.8,"v":0.1},{"s":"Twbdiff03","t":10.1,"v":-0.1},{"s":"Twbdiff03","t":10.3,"v":0},{"s":"Twbdiff03","t":10.35,"v":-0.1},{"s":"Twbdiff03","t":11,"v":0},{"s":"Twbdiff03","t":11.05,"v":-0.1},{"s":"Twbdiff03","t":11.6,"v":0},{"s":"Twbdiff03","t":11.65,"v":-0.1},{"s":"Twbdiff03","t":12.9,"v":0},{"s":"Twbdiff03","t":12.95,"v":-0.1},{"s":"Twbdiff03","t":13,"v":-0.1}
         ]},
         "mark": {"type": "line", "interpolate": "step-after", "strokeWidth": 1},
         "encoding": {
           "color": {"field": "s", "type": "nominal", "scale": {"domain": ["Twbdiff02","Twbdiff03"], "range": ["#ff0000","#00ff00"]},
             "legend": {"orient": "none", "legendX": 525, "legendY": 398, "title": null, "strokeColor": "black", "fillColor": "white", "padding": 7, "labelFontSize": 23, "symbolSize": 112, "symbolStrokeWidth": 1, "rowPadding": 6, "labelOffset": 22, "symbolOffset": 22, "symbolType": "M-5,0H5"}}
         }}
      ]
    }
  ],
  "resolve": {"scale": {"x": "independent", "y": "independent", "color": "independent", "strokeDash": "independent"}, "axis": {"x": "independent", "y": "independent"}, "legend": {"color": "independent", "strokeDash": "independent"}}
}
],
"spacing": 217,
"bounds": "flush"
}
